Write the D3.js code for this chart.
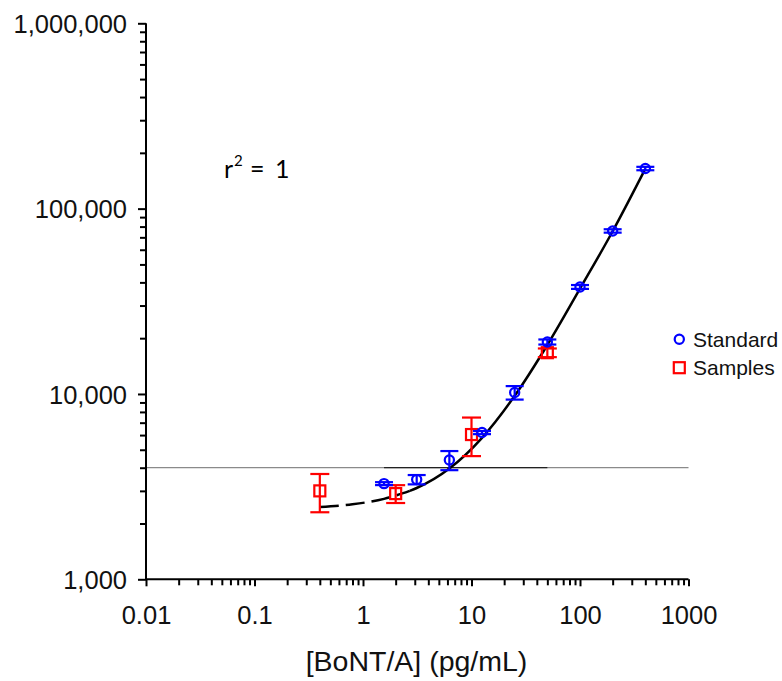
<!DOCTYPE html>
<html><head><meta charset="utf-8">
<script src="https://cdn.jsdelivr.net/npm/d3@7"></script>
<style>
body{margin:0;background:#fff;}
svg{display:block;}
</style></head>
<body>
<svg id="c" width="782" height="681"></svg>
<script>
// ---- data ----
const stdX = [1.5625, 3.125, 6.25, 12.5, 25, 50, 100, 200, 400];
const stdY = [3283, 3452, 4400, 6190, 10175, 19080, 37800, 75800, 164600];
const stdErr = [60, 200, 520, 120, 850, 600, 900, 1600, 3500];

const smpX = [0.4, 2, 10, 50];
const smpY = [3000, 2900, 6040, 16700];
const smpErr = [700, 320, 1420, 900];

const fitDashX = [0.4, 0.8, 1.5625, 2.7];
const fitDashY = [2455, 2540, 2716, 3000];
const fitSolidX = [2.7, 3.125, 6.25, 12.5, 25, 50, 100, 200, 400];
const fitSolidY = [3000, 3109, 3960, 5800, 9770, 18380, 37000, 75500, 164000];

const cutoff = 4000;
const cutoffDarkRange = [1.5625, 50];

const xMajor = [0.01, 0.1, 1, 10, 100, 1000];
const xMajorLabels = ["0.01", "0.1", "1", "10", "100", "1000"];
const yMajor = [1000, 10000, 100000, 1000000];
const yMajorLabels = ["1,000", "10,000", "100,000", "1,000,000"];

const xTitle = "[BoNT/A] (pg/mL)";
const legendLabels = ["Standard", "Samples"];
const r2Label = "1";

// ---- chart ----
const svg = d3.select("#c");
const x = d3.scaleLog().domain([0.01, 1000]).range([146, 688.5]);
const y = d3.scaleLog().domain([1000, 1000000]).range([579.3, 23.3]);

const minorOf = (majors) => {
  const out = [];
  for (let i = 0; i < majors.length - 1; i++)
    for (let k = 2; k <= 9; k++) out.push(majors[i] * k);
  return out;
};
const xMinor = minorOf(xMajor);
const yMinor = minorOf(yMajor);

const font = "'Liberation Sans', Arial, sans-serif";

// cutoff lines
svg.append("line")
  .attr("x1", x(0.01)).attr("x2", x(1000))
  .attr("y1", y(cutoff)).attr("y2", y(cutoff))
  .attr("stroke", "#8a8a8a").attr("stroke-width", 1.3);
svg.append("line")
  .attr("x1", x(cutoffDarkRange[0])).attr("x2", x(cutoffDarkRange[1]))
  .attr("y1", y(cutoff)).attr("y2", y(cutoff))
  .attr("stroke", "#222").attr("stroke-width", 1.3);

// x axis
const gx = svg.append("g").attr("transform", `translate(0,${y(1000)})`);
gx.call(d3.axisBottom(x).tickValues(xMinor).tickSize(6).tickFormat(""));
const gxM = svg.append("g").attr("transform", `translate(0,${y(1000)})`);
gxM.call(d3.axisBottom(x).tickValues(xMajor).tickSize(7).tickPadding(20)
  .tickFormat((d, i) => xMajorLabels[i]));
// y axis
const gy = svg.append("g").attr("transform", `translate(${x(0.01)},0)`);
gy.call(d3.axisLeft(y).tickValues(yMinor).tickSize(6).tickFormat(""));
const gyM = svg.append("g").attr("transform", `translate(${x(0.01)},0)`);
gyM.call(d3.axisLeft(y).tickValues(yMajor).tickSize(8).tickPadding(11)
  .tickFormat((d, i) => yMajorLabels[i]));

svg.selectAll(".domain").attr("stroke", "#000").attr("stroke-width", 2);
svg.selectAll(".tick line").attr("stroke", "#000").attr("stroke-width", 2);
svg.selectAll(".tick text").attr("font-family", font).attr("font-size", 25.5).attr("fill", "#111");
gxM.selectAll(".tick text").attr("dy", "0.71em");
gyM.selectAll(".tick text").attr("dy", "0.36em");
gx.select(".domain").attr("d", `M${x(0.01)},0H${x(1000)}`);
gxM.select(".domain").remove();
gy.select(".domain").attr("d", `M0,${y(1000)}V${y(1000000)}`);
gyM.select(".domain").remove();

// fit curve
const line = d3.line().x(d => x(d[0])).y(d => y(d[1])).curve(d3.curveMonotoneX);
svg.append("path")
  .attr("d", line(fitDashX.map((v, i) => [v, fitDashY[i]])))
  .attr("fill", "none").attr("stroke", "#000").attr("stroke-width", 2.5)
  .attr("stroke-dasharray", "19,7");
svg.append("path")
  .attr("d", line(fitSolidX.map((v, i) => [v, fitSolidY[i]])))
  .attr("fill", "none").attr("stroke", "#000").attr("stroke-width", 2.5);

// error bars helper
function errBars(xs, ys, es, color, cap) {
  const g = svg.append("g").attr("stroke", color).attr("stroke-width", 2.2);
  xs.forEach((xv, i) => {
    const cx = x(xv), t = y(ys[i] + es[i]), b = y(ys[i] - es[i]);
    g.append("line").attr("x1", cx).attr("x2", cx).attr("y1", t).attr("y2", b);
    g.append("line").attr("x1", cx - cap).attr("x2", cx + cap).attr("y1", t).attr("y2", t);
    g.append("line").attr("x1", cx - cap).attr("x2", cx + cap).attr("y1", b).attr("y2", b);
  });
}

// samples
errBars(smpX, smpY, smpErr, "#ff0000", 9.5);
svg.append("g").selectAll("rect").data(smpX).join("rect")
  .attr("x", (d) => x(d) - 5.5).attr("y", (d, i) => y(smpY[i]) - 5.5)
  .attr("width", 11).attr("height", 11)
  .attr("fill", "none").attr("stroke", "#ff0000").attr("stroke-width", 2.2);

// standards
errBars(stdX, stdY, stdErr, "#0000ff", 9);
svg.append("g").selectAll("circle").data(stdX).join("circle")
  .attr("cx", d => x(d)).attr("cy", (d, i) => y(stdY[i])).attr("r", 4.6)
  .attr("fill", "none").attr("stroke", "#0000ff").attr("stroke-width", 2.2);

// r^2 label
const r2g = svg.append("g").attr("font-family", "Lato, 'Open Sans', sans-serif").attr("fill", "#000");
r2g.append("text").attr("x", 224).attr("y", 177.5).attr("font-size", 25).text("r");
r2g.append("text").attr("x", 234).attr("y", 166).attr("font-size", 15).text("2");
r2g.append("text").attr("x", 250).attr("y", 177.5).attr("font-size", 25).text("=");
r2g.append("text").attr("x", 275).attr("y", 177.5).attr("font-size", 25).text(r2Label);

// legend
const lg = svg.append("g").attr("font-family", font).attr("font-size", 21).attr("fill", "#111");
lg.append("circle").attr("cx", 679.3).attr("cy", 339.3).attr("r", 4.6)
  .attr("fill", "none").attr("stroke", "#0000ff").attr("stroke-width", 2.2);
lg.append("rect").attr("x", 679.3 - 5.5).attr("y", 367.7 - 5.5).attr("width", 11).attr("height", 11)
  .attr("fill", "none").attr("stroke", "#ff0000").attr("stroke-width", 2.2);
lg.append("text").attr("x", 693).attr("y", 346.6).text(legendLabels[0]);
lg.append("text").attr("x", 693).attr("y", 375).text(legendLabels[1]);

// x title
svg.append("text").attr("x", 416.5).attr("y", 671).attr("text-anchor", "middle")
  .attr("font-family", font).attr("font-size", 28.5).attr("fill", "#111").text(xTitle);
</script>
</body></html>
